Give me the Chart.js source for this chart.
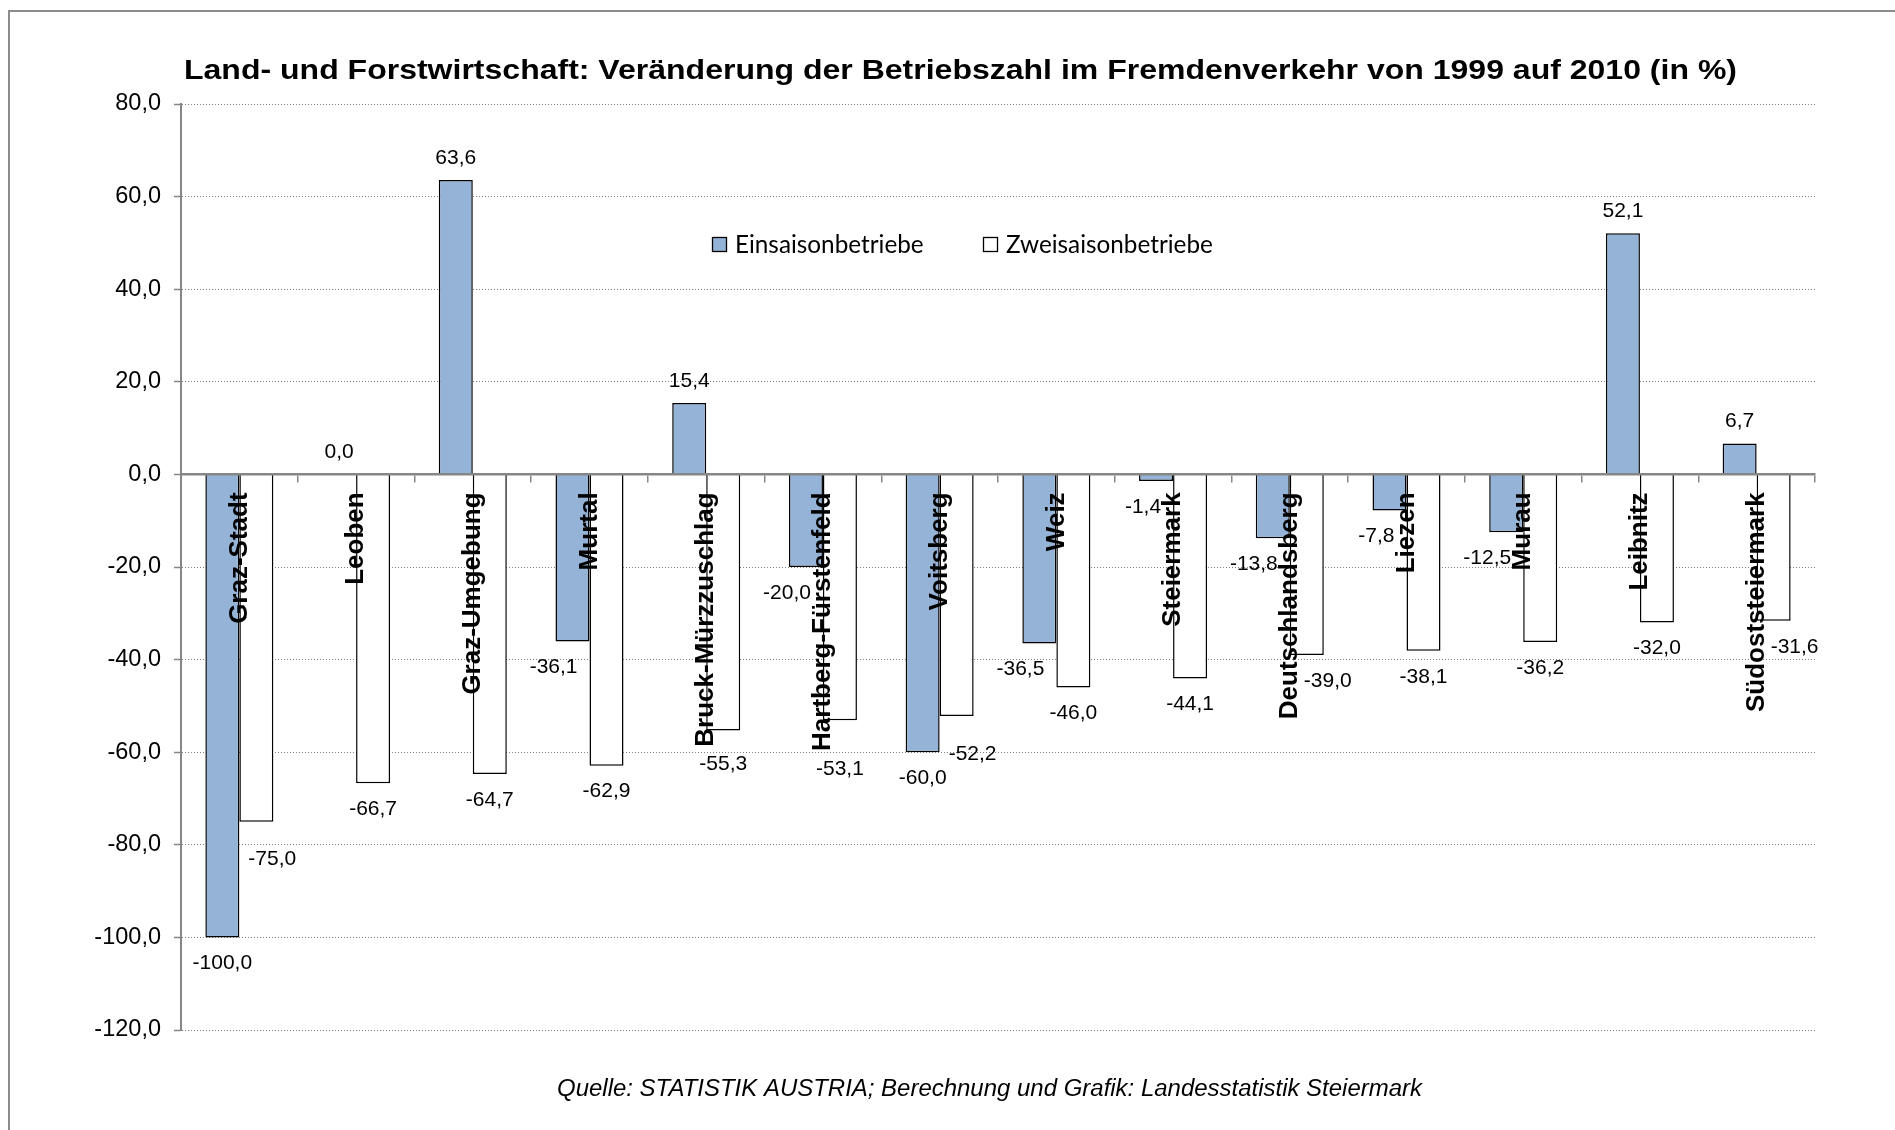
<!DOCTYPE html>
<html>
<head>
<meta charset="utf-8">
<script src="https://cdn.jsdelivr.net/npm/chart.js"></script>
<style>
  html, body { margin: 0; padding: 0; background: #ffffff; }
  #wrap { width: 1895px; height: 1130px; position: relative; }
  canvas { display: block; }
</style>
</head>
<body>
<div id="wrap"><canvas id="chart" width="1895" height="1130"></canvas></div>
<script>
// ---------------- DATA ----------------
const categories = ['Graz-Stadt', 'Leoben', 'Graz-Umgebung', 'Murtal', 'Bruck-Mürzzuschlag',
  'Hartberg-Fürstenfeld', 'Voitsberg', 'Weiz', 'Steiermark', 'Deutschlandsberg', 'Liezen',
  'Murau', 'Leibnitz', 'Südoststeiermark'];
const einsaisonbetriebe = [-100.0, 0.0, 63.6, -36.1, 15.4, -20.0, -60.0, -36.5, -1.4, -13.8, -7.8, -12.5, 52.1, 6.7];
const zweisaisonbetriebe = [-75.0, -66.7, -64.7, -62.9, -55.3, -53.1, -52.2, -46.0, -44.1, -39.0, -38.1, -36.2, -32.0, -31.6];
const seriesNames = ['Einsaisonbetriebe', 'Zweisaisonbetriebe'];
const yTickValues = [80, 60, 40, 20, 0, -20, -40, -60, -80, -100, -120];
const titleText = 'Land- und Forstwirtschaft: Veränderung der Betriebszahl im Fremdenverkehr von 1999 auf 2010 (in %)';
const sourceText = 'Quelle: STATISTIK AUSTRIA; Berechnung und Grafik: Landesstatistik Steiermark';

// ---------------- STYLE ----------------
const FONT = '"Liberation Sans", Arial, Helvetica, sans-serif';
const BLUE = '#95B3D7';
const AXIS_GREY = '#868686';
const X_TICK_LEN = 7;
const X_TICK_PAD = 11;
const CAT_FONT = 'bold 26px ' + FONT;
const fmt = v => v.toFixed(1).replace('.', ',');

// custom text (title / source) with horizontal fit
function drawFittedText(ctx, text, font, x, baseline, targetWidth) {
  ctx.save();
  ctx.font = font;
  ctx.textAlign = 'left';
  ctx.textBaseline = 'alphabetic';
  const w = ctx.measureText(text).width;
  ctx.translate(x, baseline);
  ctx.scale(targetWidth / w, 1);
  ctx.fillStyle = '#000';
  ctx.fillText(text, 0, 0);
  ctx.restore();
}

const framePlugin = {
  id: 'frame',
  beforeDraw(chart) {
    const ctx = chart.ctx;
    ctx.save();
    ctx.fillStyle = '#ffffff';
    ctx.fillRect(0, 0, chart.width, chart.height);
    ctx.strokeStyle = '#8c8c8c';
    ctx.lineWidth = 2;
    ctx.strokeRect(9, 11, chart.width + 20, chart.height + 20);
    ctx.restore();
  },
  afterDraw(chart) {
    const ctx = chart.ctx;
    drawFittedText(ctx, titleText, 'bold 27px ' + FONT, 184, 79, 1553);
    drawFittedText(ctx, sourceText, 'italic 23px ' + FONT, 557, 1096, 865);
  }
};

const legendPlugin = {
  id: 'customLegend',
  afterDraw(chart) {
    const ctx = chart.ctx;
    const items = [{x: 712}, {x: 983}];
    ctx.save();
    ctx.font = '24.3px Lato, "Open Sans", sans-serif';
    ctx.textAlign = 'left';
    ctx.textBaseline = 'middle';
    chart.data.datasets.forEach((ds, i) => {
      const bx = items[i].x, by = 237, s = 15;
      ctx.fillStyle = ds.backgroundColor;
      ctx.fillRect(bx, by, s, s);
      ctx.strokeStyle = '#000';
      ctx.lineWidth = 1.3;
      ctx.strokeRect(bx + 0.5, by + 0.5, s - 1, s - 1);
      ctx.fillStyle = '#000';
      ctx.fillText(ds.label, bx + 23, by + s / 2 + 1);
    });
    ctx.restore();
  }
};

const labelPlugin = {
  id: 'barLabels',
  afterDraw(chart) {
    const ctx = chart.ctx;
    const xs = chart.scales.x, ys = chart.scales.y;
    const y0 = ys.getPixelForValue(0);
    ctx.save();
    ctx.font = CAT_FONT;
    const catBoxes = chart.data.labels.map((c, j) => {
      const cc = xs.getPixelForValue(j);
      const w = ctx.measureText(c).width;
      const top = y0 + X_TICK_LEN + X_TICK_PAD;
      return {l: cc - 12, r: cc + 12, t: top, b: top + w};
    });
    ctx.font = '21px ' + FONT;
    ctx.fillStyle = '#000';
    ctx.textAlign = 'center';
    ctx.textBaseline = 'middle';
    const h = 16;
    const metas = [chart.getDatasetMeta(0), chart.getDatasetMeta(1)];
    const overlaps = (a, b) => a.l < b.r && a.r > b.l && a.t < b.b && a.b > b.t;
    const barRect = el => {
      const p = el.getProps(['x', 'y', 'base', 'width'], true);
      return {l: p.x - p.width / 2, r: p.x + p.width / 2, t: Math.min(p.y, p.base), b: Math.max(p.y, p.base)};
    };
    metas.forEach((meta, d) => {
      const vals = chart.data.datasets[d].data;
      meta.data.forEach((el, j) => {
        const v = vals[j];
        const p = el.getProps(['x', 'y', 'base', 'width'], true);
        const txt = fmt(v);
        const tw = ctx.measureText(txt).width;
        let cx = p.x;
        let cy = v >= 0 ? p.y - 22 : p.y + 26;
        const box = () => ({l: cx - tw / 2, r: cx + tw / 2, t: cy - h / 2, b: cy + h / 2});
        if (v < 0) {
          const cc = xs.getPixelForValue(j);
          const other = barRect(metas[1 - d].data[j]);
          if (d === 0) {
            if (overlaps(box(), other)) cx = cc - 12 - tw / 2;
          } else {
            const cb = catBoxes[j];
            const cbm = {l: cb.l, r: cb.r, t: cb.t, b: cb.b + 8};
            if (overlaps(box(), other)) {
              cx = cc + 9 + tw / 2;
              cy += 12;
            } else if (overlaps(box(), cbm)) {
              const need = cb.b + 10 - (cy - h / 2);
              if (need <= 30) cy += need;
              else cx = cb.r + 2 + tw / 2;
            }
          }
        }
        ctx.fillText(txt, cx, cy);
      });
    });
    ctx.restore();
  }
};

Chart.defaults.font.family = FONT;
Chart.defaults.color = '#000';

new Chart(document.getElementById('chart'), {
  type: 'bar',
  data: {
    labels: categories,
    datasets: [
      {label: seriesNames[0], data: einsaisonbetriebe, backgroundColor: BLUE, borderColor: '#000', borderWidth: 1.5},
      {label: seriesNames[1], data: zweisaisonbetriebe, backgroundColor: '#FFFFFF', borderColor: '#000', borderWidth: 1.5}
    ]
  },
  options: {
    responsive: false,
    animation: false,
    devicePixelRatio: 1,
    datasets: { bar: { barPercentage: 1.0, categoryPercentage: 0.5827, borderSkipped: 'start' } },
    layout: { padding: { left: 20, right: 80, top: 104, bottom: 100 } },
    plugins: {
      legend: { display: false },
      title: { display: false },
      tooltip: { enabled: false }
    },
    scales: {
      x: {
        type: 'category',
        position: { y: 0 },
        offset: true,
        grid: { display: true, offset: true, drawOnChartArea: false, drawTicks: true,
                tickLength: X_TICK_LEN, color: AXIS_GREY, lineWidth: 1.5, z: 1 },
        border: { display: true, color: AXIS_GREY, width: 2.5, z: 1 },
        ticks: { autoSkip: false, minRotation: 90, maxRotation: 90, padding: X_TICK_PAD,
                 font: { family: FONT, size: 26, weight: 'bold' }, color: '#000', z: 1 }
      },
      y: {
        min: Math.min(...yTickValues),
        max: Math.max(...yTickValues),
        afterBuildTicks: scale => { scale.ticks = yTickValues.map(v => ({value: v})); },
        afterFit: scale => { scale.width = 161; },
        grid: { color: '#7f7f7f', lineWidth: 1, tickLength: 7, tickColor: AXIS_GREY, tickWidth: 1.5 },
        border: { display: true, color: AXIS_GREY, width: 2, dash: [1, 2] },
        ticks: { padding: 13, font: { family: FONT, size: 23.5 }, color: '#000',
                 callback: v => fmt(v) }
      }
    }
  },
  plugins: [framePlugin, labelPlugin, legendPlugin]
});
</script>
</body>
</html>
